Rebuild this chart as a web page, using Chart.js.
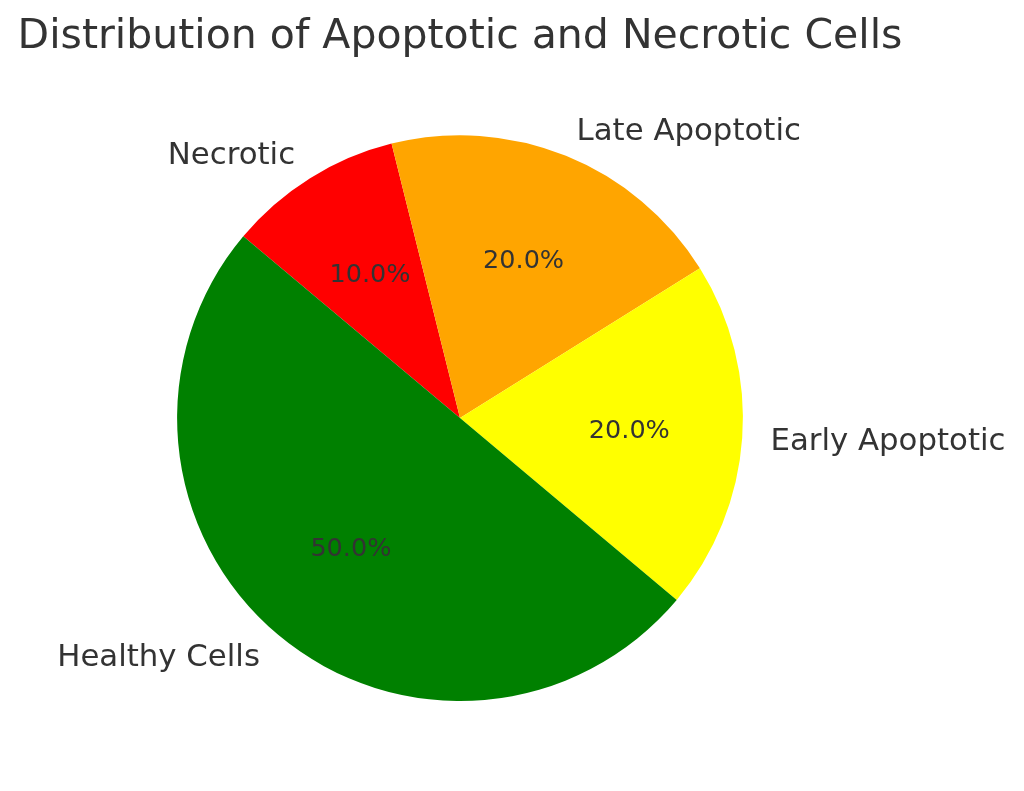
<!DOCTYPE html>
<html>
<head>
<meta charset="utf-8">
<script src="https://cdn.jsdelivr.net/npm/chart.js@4/dist/chart.umd.min.js"></script>
<style>
  html, body { margin: 0; padding: 0; background: #ffffff; }
  #wrap { width: 1024px; height: 791px; position: relative; }
</style>
</head>
<body>
<div id="wrap"><canvas id="c" width="1024" height="791"></canvas></div>
<script>
// Data (matplotlib order, counter-clockwise)
const titleText = 'Distribution of Apoptotic and Necrotic Cells';
const categories = ['Healthy Cells', 'Early Apoptotic', 'Late Apoptotic', 'Necrotic'];
const values = [50, 20, 20, 10];
const colors = ['#008000', '#ffff00', '#ffa500', '#ff0000'];

// Chart.js draws clockwise, so reverse to keep the same visual arrangement
const cjLabels = categories.slice().reverse();
const cjValues = values.slice().reverse();
const cjColors = colors.slice().reverse();
const total = values.reduce((a, b) => a + b, 0);

const TEXT_COLOR = '#333333';
const FONT = '"DejaVu Sans", Verdana, sans-serif';

const pieLabels = {
  id: 'pieLabels',
  afterDatasetsDraw(chart) {
    const ctx = chart.ctx;
    const meta = chart.getDatasetMeta(0);
    ctx.save();
    ctx.fillStyle = TEXT_COLOR;
    ctx.textBaseline = 'middle';
    meta.data.forEach((arc, i) => {
      const p = arc.getProps(['x', 'y', 'startAngle', 'endAngle', 'outerRadius'], true);
      const mid = (p.startAngle + p.endAngle) / 2;
      const c = Math.cos(mid), s = Math.sin(mid);
      // outside label at 1.1 r
      ctx.font = '30.8px ' + FONT;
      ctx.textAlign = c > 0 ? 'left' : 'right';
      ctx.fillText(cjLabels[i], p.x + c * p.outerRadius * 1.1, p.y + s * p.outerRadius * 1.1 + 2);
      // percentage at 0.6 r
      ctx.font = '25.5px ' + FONT;
      ctx.textAlign = 'center';
      const pct = (cjValues[i] / total * 100).toFixed(1) + '%';
      ctx.fillText(pct, p.x + c * p.outerRadius * 0.6, p.y + s * p.outerRadius * 0.6 + 1);
    });
    ctx.restore();
  }
};

new Chart(document.getElementById('c'), {
  type: 'pie',
  data: {
    labels: cjLabels,
    datasets: [{
      data: cjValues,
      backgroundColor: cjColors,
      borderWidth: 0,
      hoverOffset: 0
    }]
  },
  options: {
    responsive: false,
    devicePixelRatio: 1,
    animation: false,
    rotation: -50,
    layout: { padding: { top: 0, bottom: 90, left: 0, right: 104 } },
    plugins: {
      legend: { display: false },
      tooltip: { enabled: false },
      title: {
        display: true,
        text: titleText,
        color: TEXT_COLOR,
        font: { family: FONT, size: 41, weight: 'normal', lineHeight: 1.2 },
        padding: { top: 13, bottom: 73 }
      }
    }
  },
  plugins: [pieLabels]
});
</script>
</body>
</html>
